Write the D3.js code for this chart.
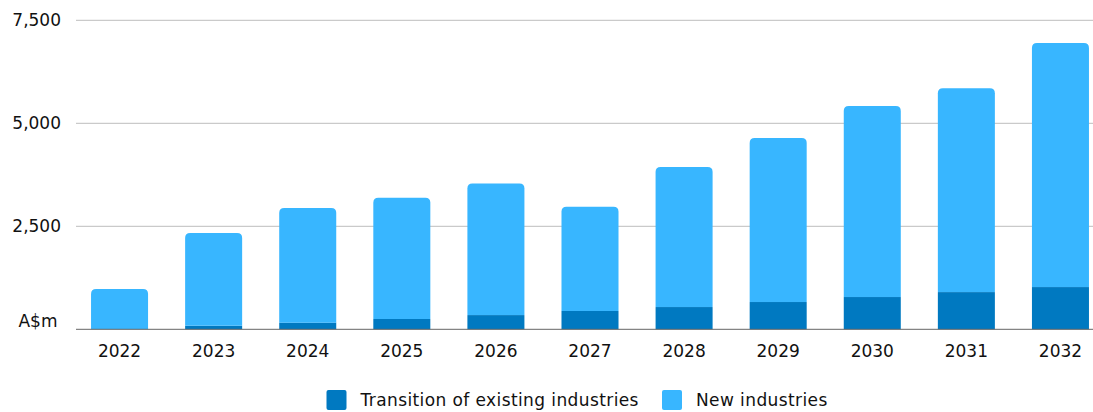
<!DOCTYPE html>
<html>
<head>
<meta charset="utf-8">
<script src="https://cdn.jsdelivr.net/npm/d3@7"></script>
<style>
  html, body { margin: 0; padding: 0; background: #fff; }
  svg { display: block; font-family: "DejaVu Sans", Verdana, sans-serif; }
</style>
</head>
<body>
<svg id="chart" width="1093" height="412"></svg>
<script>
const years = ["2022","2023","2024","2025","2026","2027","2028","2029","2030","2031","2032"];
const transition = [0, 85, 160, 250, 345, 445, 540, 662, 783, 903, 1025];
const newInd = [978, 2250, 2782, 2942, 3195, 2527, 3400, 3980, 4635, 4945, 5925];
const yTicks = [2500, 5000, 7500];
const seriesNames = ["Transition of existing industries", "New industries"];
const colors = ["#0079C1", "#38B6FF"];
const FS = 17;

const svg = d3.select("#chart");
const x = d3.scaleBand().domain(years).range([72.5, 1107.5]).paddingInner(0.394).paddingOuter(0.197);
const y = d3.scaleLinear().domain([0, 7500]).range([329.3, 20.3]);

// gridlines
svg.append("g").selectAll("line").data(yTicks).join("line")
  .attr("x1", 76).attr("x2", 1093)
  .attr("y1", d => y(d)).attr("y2", d => y(d))
  .attr("stroke", "#bdbdbd").attr("stroke-width", 1);

// y tick labels
svg.append("g").selectAll("text").data(yTicks).join("text")
  .attr("x", 61).attr("y", d => y(d)).attr("dy", "0.36em")
  .attr("text-anchor", "end").attr("font-size", FS).attr("fill", "#111")
  .text(d => d3.format(",")(d));
svg.append("text").attr("x", 57.5).attr("y", 327).attr("text-anchor", "end")
  .attr("font-size", FS).attr("fill", "#111").text("A$m");

const data = years.map((yr, i) => ({yr, t: transition[i], n: newInd[i]}));

// dark segments
svg.append("g").selectAll("rect").data(data).join("rect")
  .attr("x", d => x(d.yr)).attr("width", x.bandwidth())
  .attr("y", d => y(d.t)).attr("height", d => y(0) - y(d.t))
  .attr("fill", colors[0]);

// light segments with rounded top
function topRounded(x0, y0, w, h, r) {
  r = Math.min(r, h, w / 2);
  return `M${x0},${y0 + h}V${y0 + r}Q${x0},${y0} ${x0 + r},${y0}H${x0 + w - r}Q${x0 + w},${y0} ${x0 + w},${y0 + r}V${y0 + h}Z`;
}
svg.append("g").selectAll("path").data(data).join("path")
  .attr("d", d => topRounded(x(d.yr), y(d.t + d.n), x.bandwidth(), y(d.t) - y(d.t + d.n), 5))
  .attr("fill", colors[1]);

// baseline
svg.append("line").attr("x1", 76).attr("x2", 1093).attr("y1", y(0)).attr("y2", y(0))
  .attr("stroke", "#666").attr("stroke-width", 1);

// x labels
svg.append("g").selectAll("text").data(years).join("text")
  .attr("x", d => x(d) + x.bandwidth() / 2).attr("y", 357)
  .attr("text-anchor", "middle").attr("font-size", FS).attr("fill", "#111")
  .text(d => d);

// legend
const legX = [326.5, 662];
const lg = svg.append("g").selectAll("g").data(seriesNames).join("g")
  .attr("transform", (d, i) => `translate(${legX[i]},390)`);
lg.append("rect").attr("width", 20).attr("height", 20).attr("rx", 2)
  .attr("fill", (d, i) => colors[i]);
lg.append("text").attr("x", 34).attr("y", 16)
  .attr("font-size", FS).attr("letter-spacing", 0.4).attr("fill", "#111").text(d => d);
</script>
</body>
</html>
